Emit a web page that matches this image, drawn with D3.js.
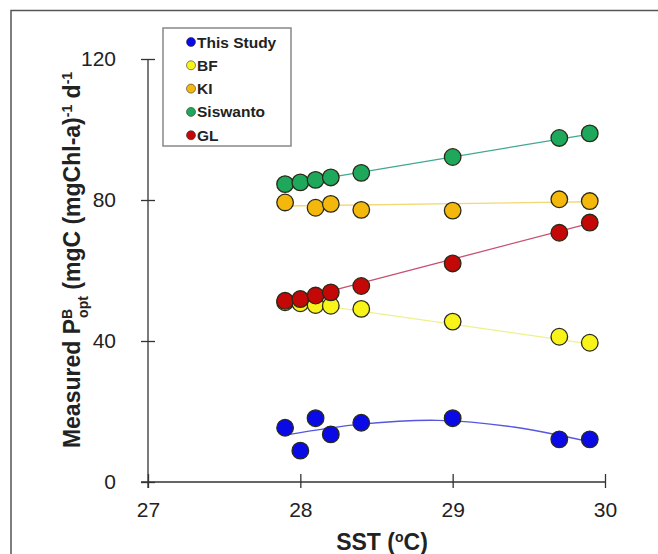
<!DOCTYPE html>
<html>
<head>
<meta charset="utf-8">
<script src="https://cdn.jsdelivr.net/npm/d3@7"></script>
<style>
  body { margin: 0; background: #fff; }
  text { font-family: Arial, "Liberation Sans", sans-serif; fill: #222; }
</style>
</head>
<body>
<div id="chart"></div>
<script>
// data
var sst = [27.9, 28.0, 28.1, 28.2, 28.4, 29.0, 29.7, 29.9];
var kiSst = [27.9, 28.1, 28.2, 28.4, 29.0, 29.7, 29.9];
var thisStudy = [15.4, 8.9, 18.1, 13.5, 16.8, 18.1, 12.1, 12.1];
var bf = [51.0, 50.7, 50.2, 50.0, 49.1, 45.5, 41.2, 39.5];
var ki = [79.3, 77.8, 78.9, 77.2, 77.0, 80.2, 79.7];
var siswanto = [84.5, 85.0, 85.7, 86.4, 87.7, 92.2, 97.6, 98.9];
var gl = [51.4, 51.9, 52.9, 53.8, 55.6, 62.0, 70.7, 73.6];

// fitted lines as drawn in the figure
var fitX = [27.9, 29.9];
var fitSiswanto = [84.3, 98.7];
var fitKi = [78.3, 79.5];
var fitBf = [51.5, 39.2];
var fitGl = [50.8, 73.4];
var curveX = [27.9, 28.4, 28.9, 29.4, 29.9];
var curveThisStudy = [13.3, 16.4, 17.5, 15.6, 11.4];

var xTicks = [27, 28, 29, 30];
var yTicks = [0, 40, 80, 120];

var W = 658, H = 554;

var svg = d3.select("#chart").append("svg")
	.attr("width", W)
	.attr("height", H);

// outer frame (cropped figure border)
svg.append("path")
	.attr("d", "M11," + H + "V10.5H" + W)
	.attr("fill", "none")
	.attr("stroke", "#555")
	.attr("stroke-width", 1.5);

var x = d3.scaleLinear().domain([27, 30]).range([148, 605]);
var y = d3.scaleLinear().domain([0, 120]).range([482, 59]);

// axes
var xAxis = svg.append("g")
	.attr("transform", "translate(0," + y(0) + ")")
	.call(d3.axisBottom(x).tickValues(xTicks).tickSize(6).tickPadding(14).tickFormat(d3.format("d")));
var yAxis = svg.append("g")
	.attr("transform", "translate(" + x(27) + ",0)")
	.call(d3.axisLeft(y).tickValues(yTicks).tickSize(7).tickPadding(25).tickFormat(d3.format("d")));

[xAxis, yAxis].forEach(function(g){
	g.select(".domain").attr("stroke", "#333").attr("stroke-width", 1.3);
	g.selectAll(".tick line").attr("stroke", "#333").attr("stroke-width", 1.3);
	g.selectAll(".tick text").attr("font-size", "21px").attr("fill", "#222")
		.style("font-family", "Arial, 'Liberation Sans', sans-serif");
	g.attr("font-family", null);
});
// ticks cross the axis lines
xAxis.selectAll(".tick line").attr("y1", -8).attr("y2", 6);
yAxis.selectAll(".tick line").attr("x1", -7).attr("x2", 7);
xAxis.select(".domain").attr("d", "M" + (x(27) - 7) + ",0H" + x(30));
yAxis.select(".domain").attr("d", "M0," + y(120) + "V" + (y(0) + 6));

// axis titles
svg.append("text")
	.attr("x", 382)
	.attr("y", 550)
	.attr("text-anchor", "middle")
	.attr("font-size", "23px")
	.attr("font-weight", "bold")
	.html('SST (<tspan baseline-shift="super" font-size="14px">o</tspan>C)');

svg.append("text")
	.attr("transform", "translate(80,260) rotate(-90)")
	.attr("text-anchor", "middle")
	.attr("font-size", "23px")
	.attr("font-weight", "bold")
	.html('Measured P<tspan baseline-shift="super" font-size="14px">B</tspan><tspan baseline-shift="sub" font-size="14px" dx="-9">opt</tspan> (mgC (mgChl-a)<tspan baseline-shift="super" font-size="14px">-1</tspan> d<tspan baseline-shift="super" font-size="14px">-1</tspan>');

var series = [
	{name: "This Study", color: "#0a0ae6", line: "#5656e0", xs: sst, ys: thisStudy, fx: curveX, fy: curveThisStudy},
	{name: "Siswanto", color: "#1ea85c", line: "#40a890", xs: sst, ys: siswanto, fx: fitX, fy: fitSiswanto},
	{name: "KI", color: "#f4b80c", line: "#f2d878", xs: kiSst, ys: ki, fx: fitX, fy: fitKi},
	{name: "BF", color: "#f8f41a", line: "#f0f08c", xs: sst, ys: bf, fx: fitX, fy: fitBf},
	{name: "GL", color: "#c40808", line: "#c85070", xs: sst, ys: gl, fx: fitX, fy: fitGl}
];

var line = d3.line()
	.x(function(d){ return x(d[0]); })
	.y(function(d){ return y(d[1]); })
	.curve(d3.curveCatmullRom);

// fit lines
series.forEach(function(s){
	svg.append("path")
		.attr("d", line(d3.zip(s.fx, s.fy)))
		.attr("fill", "none")
		.attr("stroke", s.line)
		.attr("stroke-width", 1.3);
});

// points
series.forEach(function(s){
	svg.append("g").selectAll("circle")
		.data(d3.zip(s.xs, s.ys))
		.enter().append("circle")
			.attr("cx", function(d){ return x(d[0]); })
			.attr("cy", function(d){ return y(d[1]); })
			.attr("r", 8.3)
			.attr("fill", s.color)
			.attr("stroke", "#2a2a1a")
			.attr("stroke-width", 1.3);
});

// legend
var legendOrder = ["This Study", "BF", "KI", "Siswanto", "GL"];
var legend = svg.append("g").attr("transform", "translate(163,28)");
legend.append("rect")
	.attr("width", 128)
	.attr("height", 118)
	.attr("fill", "#fff")
	.attr("stroke", "#888")
	.attr("stroke-width", 1.5);

legendOrder.forEach(function(name, i){
	var s = series.filter(function(d){ return d.name == name; })[0];
	var row = legend.append("g").attr("transform", "translate(0," + (14 + i * 23.3) + ")");
	row.append("circle")
		.attr("cx", 28)
		.attr("cy", 0)
		.attr("r", 4.5)
		.attr("fill", s.color)
		.attr("stroke", "#333")
		.attr("stroke-width", 0.6);
	row.append("text")
		.attr("x", 34)
		.attr("y", 5.5)
		.attr("font-size", "15.5px")
		.attr("font-weight", "bold")
		.text(name);
});
</script>
</body>
</html>
